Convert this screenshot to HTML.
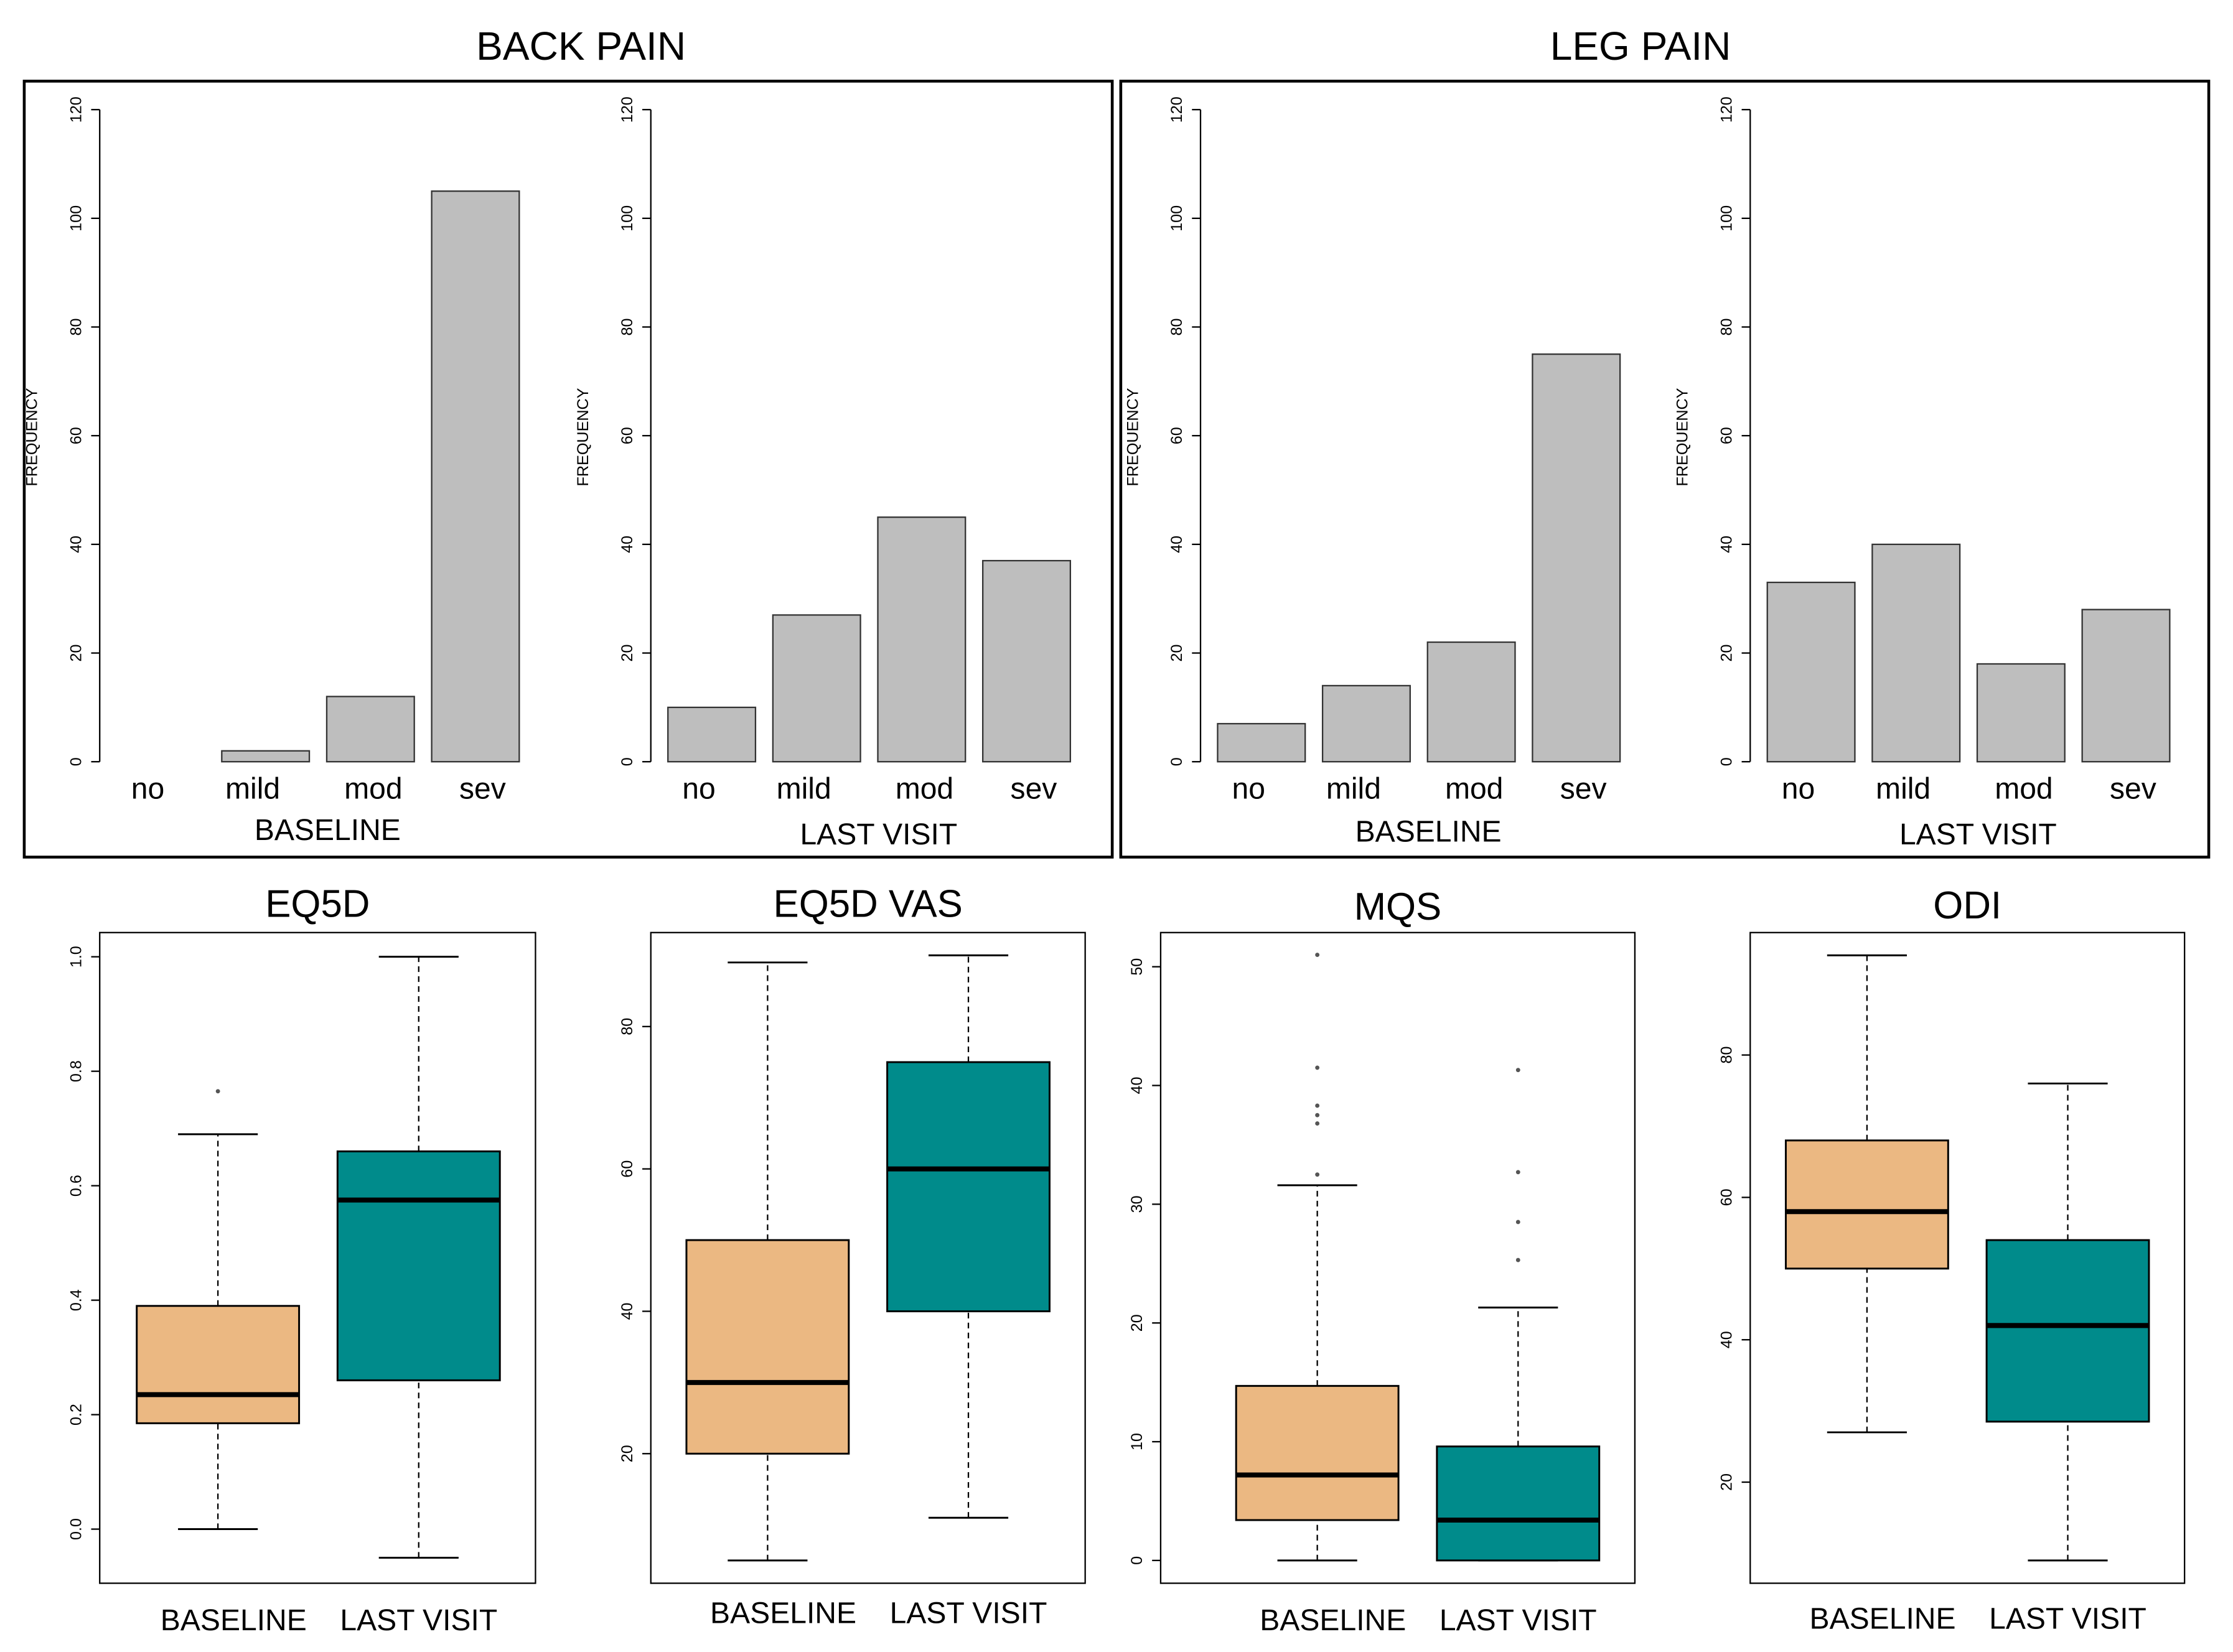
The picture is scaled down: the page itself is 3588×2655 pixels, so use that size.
<!DOCTYPE html>
<html><head><meta charset="utf-8"><style>
html,body{margin:0;padding:0;background:#fff;}
svg{display:block;font-family:"Liberation Sans",sans-serif;}
</style></head><body>
<svg id="s" width="3588" height="2655" viewBox="0 0 1568 1160.3" xmlns="http://www.w3.org/2000/svg">
<rect width="1568" height="1161" fill="#fff"/>
<text x="408" y="42" font-size="28" text-anchor="middle">BACK PAIN</text>
<text x="1152" y="42" font-size="28" text-anchor="middle">LEG PAIN</text>
<rect x="17" y="57" width="764" height="545" fill="none" stroke="#000" stroke-width="2"/>
<rect x="787" y="57" width="764" height="545" fill="none" stroke="#000" stroke-width="2"/>
<g id="g"></g>
</svg>
<script>
const categories=["no","mild","mod","sev"];
const backBaseline=[0,2,12,105];
const backLast=[10,27,45,37];
const legBaseline=[7,14,22,75];
const legLast=[33,40,18,28];
const freqTicks=[0,20,40,60,80,100,120];
const boxGroups=["BASELINE","LAST VISIT"];
const eq5dStats=[[0,0.185,0.235,0.39,0.69],[-0.05,0.26,0.575,0.66,1.0]];
const eq5dOut=[[0.765],[]];
const eq5dTicks=["0.0","0.2","0.4","0.6","0.8","1.0"];
const vasStats=[[5,20,30,50,89],[11,40,60,75,90]];
const vasOut=[[],[]];
const vasTicks=["20","40","60","80"];
const mqsStats=[[0,3.4,7.2,14.7,31.6],[0,0,3.4,9.6,21.3]];
const mqsOut=[[32.5,36.8,37.5,38.3,41.5,51],[25.3,28.5,32.7,41.3]];
const mqsTicks=["0","10","20","30","40","50"];
const odiStats=[[27,50,58,68,94],[9,28.5,42,54,76]];
const odiOut=[[],[]];
const odiTicks=["20","40","60","80"];

const NS="http://www.w3.org/2000/svg";
const G=document.getElementById('g');
function el(t,a,p){const e=document.createElementNS(NS,t);for(const k in a)e.setAttribute(k,a[k]);(p||G).appendChild(e);return e;}
function txt(x,y,s,size,rot,name,anchor){const e=el('text',{x:x,y:y,'font-size':size,'text-anchor':anchor||'middle'});if(rot)e.setAttribute('transform',`rotate(-90 ${x} ${y})`);e.textContent=s;


return e;}
const labOff=[-9,-9,2,5];
function barChart(ax,vals,xlab,xlabY,id){
  const y0=535,y1=77,max=120;const sy=v=>y0-(v/max)*(y0-y1);
  const g=el('g',{});
  
  
  el('line',{x1:ax,y1:sy(0),x2:ax,y2:sy(120),stroke:'#000','stroke-width':1},g);
  freqTicks.forEach(t=>{el('line',{x1:ax-6,y1:sy(t),x2:ax,y2:sy(t),stroke:'#000'},g);
    const e=txt(ax-16,sy(t),String(t),11,true,'y-tick-label');e.setAttribute('dominant-baseline','middle');g.appendChild(e);});
  const ft=txt(ax-44,307,'FREQUENCY',11,true,'y-axis-title');g.appendChild(ft);
  vals.forEach((v,i)=>{const x=ax+12+i*73.7;
    const r=el('rect',{x:x,y:sy(v),width:61.5,height:sy(0)-sy(v),fill:'#bebebe',stroke:'#333','stroke-width':1},g);
    
    
    const l=txt(x+30.75+labOff[i],561,categories[i],21,false,'category-label');g.appendChild(l);});
  const xl=txt(ax+160,xlabY,xlab,21,false,'x-axis-title');g.appendChild(xl);
}
barChart(70,backBaseline,'BASELINE',590,'back-baseline');
barChart(457,backLast,'LAST VISIT',593,'back-last-visit');
barChart(843,legBaseline,'BASELINE',591,'leg-baseline');
barChart(1229,legLast,'LAST VISIT',593,'leg-last-visit');

function boxPlot(fx,fw,title,titleY,tY0,tV0,tY1,tV1,ticks,stats,outs,labY,centers,id){
  const sy=v=>tY0+(v-tV0)*(tY1-tY0)/(tV1-tV0);
  const g=el('g',{});
  
  
  el('rect',{x:fx,y:655,width:fw,height:457,fill:'none',stroke:'#000','stroke-width':1},g);
  const tt=txt(fx+fw/2,titleY,title,27,false,'plot-title');g.appendChild(tt);
  ticks.forEach(t=>{const y=sy(parseFloat(t));el('line',{x1:fx-6,y1:y,x2:fx,y2:y,stroke:'#000'},g);
    const e=txt(fx-16,y,t,11,true,'y-tick-label');e.setAttribute('dominant-baseline','middle');g.appendChild(e);});
  const cols=['#ebb882','#008b8b'];
  stats.forEach((s,i)=>{const c=centers[i],hw=57;
    el('line',{x1:c,y1:sy(s[0]),x2:c,y2:sy(s[1]),stroke:'#000','stroke-dasharray':'4,3'},g);
    el('line',{x1:c,y1:sy(s[3]),x2:c,y2:sy(s[4]),stroke:'#000','stroke-dasharray':'4,3'},g);
    el('line',{x1:c-28,y1:sy(s[0]),x2:c+28,y2:sy(s[0]),stroke:'#000','stroke-width':1.3},g);
    el('line',{x1:c-28,y1:sy(s[4]),x2:c+28,y2:sy(s[4]),stroke:'#000','stroke-width':1.3},g);
    const r=el('rect',{x:c-hw,y:sy(s[3]),width:hw*2,height:sy(s[1])-sy(s[3]),fill:cols[i],stroke:'#000','stroke-width':1.3},g);
    
    
    el('line',{x1:c-hw,y1:sy(s[2]),x2:c+hw,y2:sy(s[2]),stroke:'#000','stroke-width':3.5},g);
    outs[i].forEach(o=>{el('circle',{cx:c,cy:sy(o),r:1.5,fill:'#555'},g);});
    const l=txt(c+(i?0:11),labY,boxGroups[i],21,false,'group-label');g.appendChild(l);
  });
}
boxPlot(70,306,'EQ5D',644,1074,0,672,1.0,eq5dTicks,eq5dStats,eq5dOut,1145,[153,294],'eq5d');
boxPlot(457,305,'EQ5D VAS',644,1021,20,721,80,vasTicks,vasStats,vasOut,1140,[539,680],'eq5d-vas');
boxPlot(815,333,'MQS',646,1096,0,679,50,mqsTicks,mqsStats,mqsOut,1145,[925,1066],'mqs');
boxPlot(1229,305,'ODI',645,1041,20,741,80,odiTicks,odiStats,odiOut,1144,[1311,1452],'odi');
</script>
</body></html>
